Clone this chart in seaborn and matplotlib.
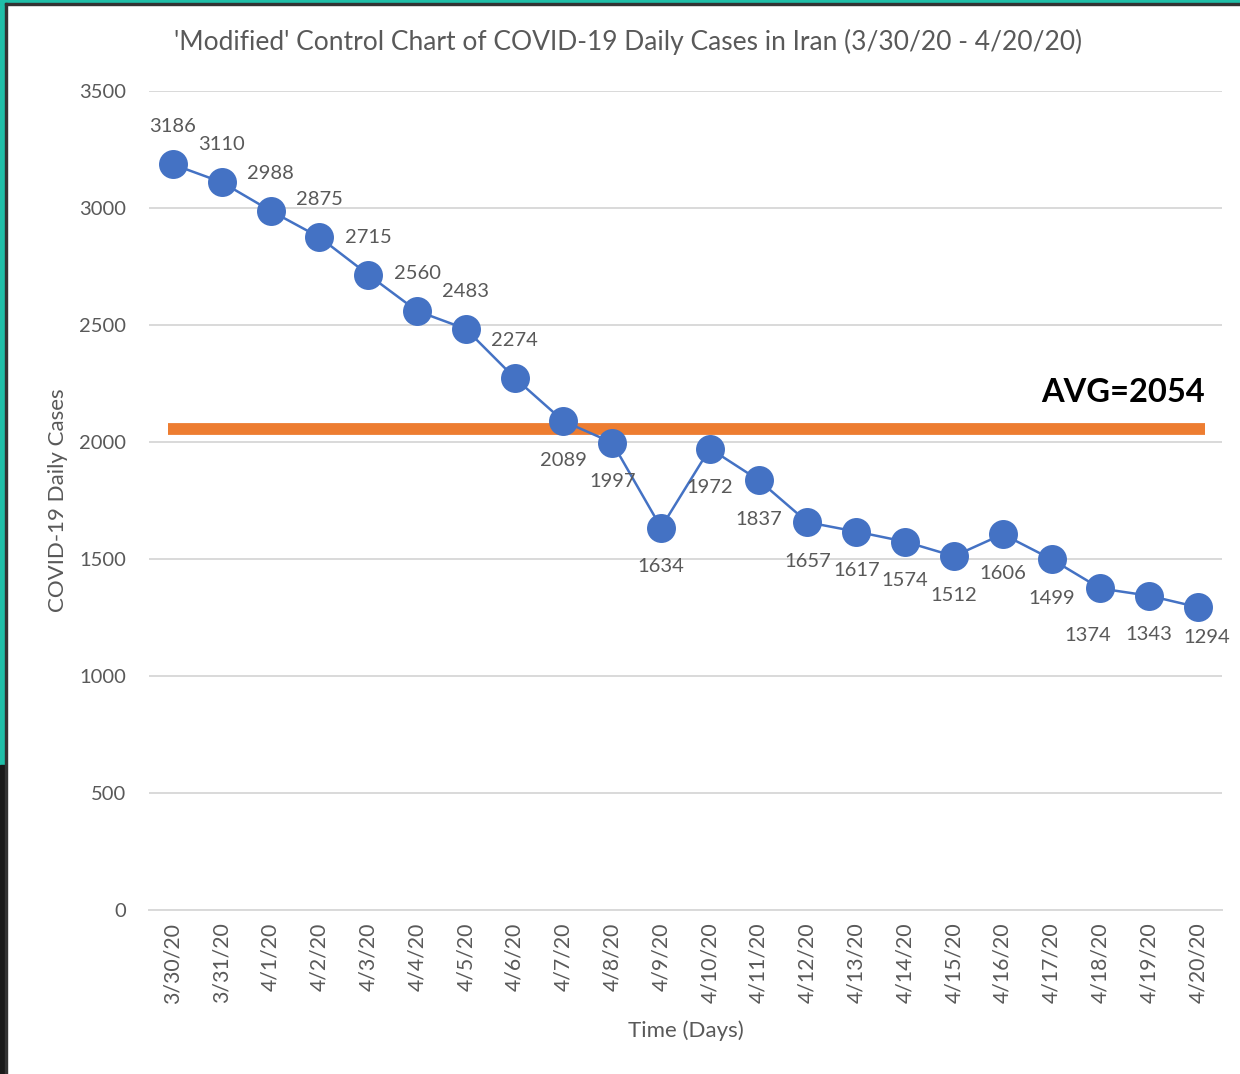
import matplotlib
matplotlib.use("Agg")
import matplotlib.pyplot as plt
from matplotlib.patches import Rectangle
from matplotlib.ticker import FixedLocator
import seaborn as sns

# ************* DATA *****************
dates = ["3/30/20", "3/31/20", "4/1/20", "4/2/20", "4/3/20", "4/4/20", "4/5/20",
         "4/6/20", "4/7/20", "4/8/20", "4/9/20", "4/10/20", "4/11/20", "4/12/20",
         "4/13/20", "4/14/20", "4/15/20", "4/16/20", "4/17/20", "4/18/20",
         "4/19/20", "4/20/20"]
cases = [3186, 3110, 2988, 2875, 2715, 2560, 2483, 2274, 2089, 1997, 1634,
         1972, 1837, 1657, 1617, 1574, 1512, 1606, 1499, 1374, 1343, 1294]
avg_cases = 2054

# ************* STYLE *****************
sns.set_style("white")
plt.rcParams["font.family"] = ["Lato", "DejaVu Sans"]
grey_text = "#595959"
grid_grey = "#D9D9D9"
blue = "#4472C4"
orange = "#ED7D31"

fig = plt.figure(figsize=(12.4, 10.74), dpi=100)
ax = fig.add_axes([0.1198, 0.1527, 0.866, 0.7626])

# the series
sns.pointplot(x=dates, y=cases, color=blue, markers="o", markersize=19.5,
              linewidth=1.8, errorbar=None, ax=ax, zorder=3)

# average line
ax.hlines(avg_cases, -0.1, 21.15, color=orange, linewidth=8.5, zorder=2)
ax.text(21.15, avg_cases + 95, f"AVG={avg_cases}", ha="right", va="bottom",
        fontsize=23.5, fontweight="bold", color="black")

# data labels (first ones above the point, the rest below)
x_shift = {19: -9, 21: 6}
y_shift = {19: -34, 21: -22}
for i, v in enumerate(cases):
    dy = 27 if i < 8 else -28
    dy = y_shift.get(i, dy)
    ax.annotate(str(v), (i, v), xytext=(x_shift.get(i, 0), dy),
                textcoords="offset points", ha="center", va="center",
                fontsize=14.5, color=grey_text, zorder=4)

# axes
ax.set_ylim(0, 3500)
ax.set_xlim(-0.5, len(dates) - 0.5)
ax.set_yticks(range(0, 3501, 500))
ax.yaxis.grid(True, color=grid_grey, linewidth=1.4)
ax.set_axisbelow(True)
for side in ["top", "right", "left"]:
    ax.spines[side].set_visible(False)
ax.spines["bottom"].set_color(grid_grey)
ax.spines["bottom"].set_linewidth(1.4)

ax.tick_params(axis="y", length=0, pad=16, labelsize=14.5, labelcolor=grey_text)
ax.tick_params(axis="x", which="major", length=0, pad=9, labelsize=15.3,
               labelcolor=grey_text, labelrotation=90)
ax.xaxis.set_minor_locator(FixedLocator([i - 0.5 for i in range(len(dates) + 1)]))
ax.tick_params(axis="x", which="minor", length=7, width=1.4, color=grid_grey,
               direction="out")

ax.set_xlabel("Time (Days)", fontsize=16, color=grey_text, labelpad=12)
ax.set_ylabel("COVID-19 Daily Cases", fontsize=16, color=grey_text, labelpad=8)

fig.text(628 / 1240, 1 - 42 / 1074,
         "'Modified' Control Chart of COVID-19 Daily Cases in Iran (3/30/20 - 4/20/20)",
         ha="center", va="center", fontsize=19, color=grey_text)

# frame bits at the edge of the screenshot
fig.add_artist(Rectangle((0, 1 - 765 / 1074), 5 / 1240, 765 / 1074,
                         transform=fig.transFigure, color="#1FBFA8", zorder=10))
fig.add_artist(Rectangle((0, 0), 5 / 1240, 1 - 765 / 1074,
                         transform=fig.transFigure, color="#1A1A1A", zorder=10))
fig.add_artist(Rectangle((0, 1 - 3 / 1074), 1, 3 / 1074,
                         transform=fig.transFigure, color="#1FBFA8", zorder=10))
fig.add_artist(Rectangle((5 / 1240, 0), 1.5 / 1240, 1 - 3 / 1074,
                         transform=fig.transFigure, color="#333333", zorder=10))
fig.add_artist(Rectangle((5 / 1240, 1 - 4.5 / 1074), 1, 1.5 / 1074,
                         transform=fig.transFigure, color="#333333", zorder=10))

fig.savefig("out.png", dpi=100)
